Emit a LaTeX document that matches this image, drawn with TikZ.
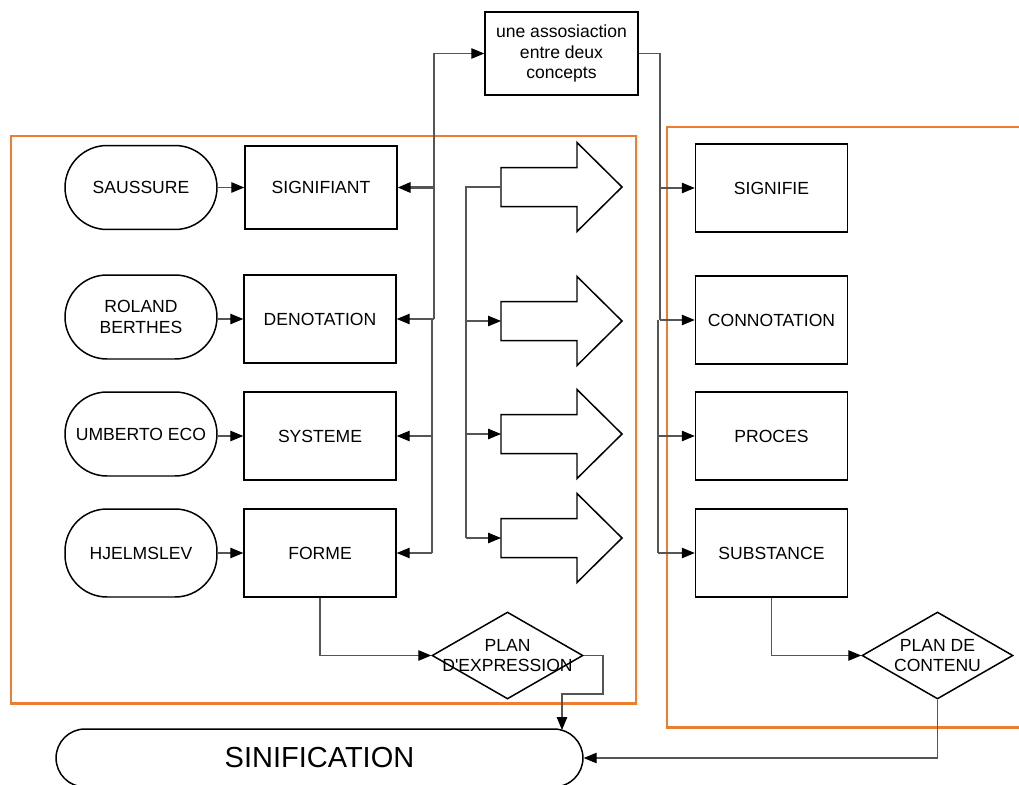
\documentclass[tikz,border=0pt]{standalone}
\usepackage{fontspec}
\setmainfont{Liberation Sans}
\usetikzlibrary{arrows.meta,shapes.geometric}
\definecolor{frameorange}{HTML}{ED7D31}
\definecolor{wirecol}{HTML}{555555}

\tikzset{
  bigarrow/.pic={
    \draw[line width=0.85pt, fill=white]
      (0,-19.5) -- (76,-19.5) -- (76,-44.5) -- (121,0) -- (76,44.5) -- (76,19.5) -- (0,19.5) -- cycle;
  }
}

\begin{document}
\begin{tikzpicture}[x=0.02cm,y=-0.02cm,
  every node/.style={font=\fontsize{10}{11.5}\selectfont, inner sep=0pt, align=center},
  box/.style={draw, line width=0.85pt, minimum width=3.04cm, minimum height=1.76cm},
  who/.style={draw, line width=0.85pt, rounded corners=0.84cm, minimum width=3.04cm, minimum height=1.68cm},
  decision/.style={draw, diamond, line width=0.85pt, minimum width=3.02cm, minimum height=1.74cm},
  wire/.style={draw=wirecol, line width=0.6pt},
  tip/.style={wire, -{Triangle[length=2.6mm,width=2.1mm,color=black]}},
  rtip/.style={wire, {Triangle[length=2.6mm,width=2.1mm,color=black]}-},
  frame/.style={draw=frameorange, line width=1.7pt}
]
\useasboundingbox (0,0) rectangle (1019,785);

% orange frames
\draw[frame] (11,136) rectangle (636,703);
\draw[frame] (667,127) rectangle (1040,727);

% top concept box
\node[box, minimum width=3.06cm, minimum height=1.66cm] (assoc) at (561.5,53.5) {une assosiaction\\entre deux\\concepts};

% authors
\node[who] (saussure) at (141,187.5) {SAUSSURE};
\node[who] (roland) at (141,317) {ROLAND\\BERTHES};
\node[who] (umberto) at (141,434) {UMBERTO ECO};
\node[who, minimum height=1.76cm] (hjelm) at (141,553) {HJELMSLEV};

% expression side
\node[box, minimum height=1.66cm] (signifiant) at (321,187.5) {SIGNIFIANT};
\node[box] (denotation) at (320,319) {DENOTATION};
\node[box] (systeme) at (320,436) {SYSTEME};
\node[box] (forme) at (320,553) {FORME};

% content side
\node[box] (signifie) at (771.5,188) {SIGNIFIE};
\node[box] (connotation) at (771.5,320) {CONNOTATION};
\node[box] (proces) at (771.5,436) {PROCES};
\node[box] (substance) at (771.5,553) {SUBSTANCE};

% planes
\node[decision, label={center:{PLAN\\D\textquotesingle EXPRESSION}}] (pexp) at (507.5,655.5) {};
\node[decision, label={center:{PLAN DE\\CONTENU}}] (pcont) at (937.5,655.5) {};

% result
\node[draw, line width=0.85pt, rounded corners=0.58cm, minimum width=10.54cm, minimum height=1.16cm,
      font=\fontsize{16.5}{18}\selectfont] (sinif) at (319.5,758) {SINIFICATION};

% block arrows
\coordinate (ba1) at (501,187);
\coordinate (ba2) at (501,321);
\coordinate (ba3) at (501,434);
\coordinate (ba4) at (501,538);
\pic at (ba1) {bigarrow};
\pic at (ba2) {bigarrow};
\pic at (ba3) {bigarrow};
\pic at (ba4) {bigarrow};

% bus positions
\coordinate (lb) at (434,0);
\coordinate (lb2) at (432,0);
\coordinate (mb) at (466,0);
\coordinate (rb) at (660,0);
\coordinate (rb2) at (658,0);

% authors to terms
\draw[tip] (saussure) -- (signifiant);
\draw[tip] (roland.east |- denotation.west) -- (denotation.west);
\draw[tip] (umberto.east |- systeme.west) -- (systeme.west);
\draw[tip] (hjelm) -- (forme);

% left bus from the concept box
\draw[rtip] (assoc.west) -| (denotation.east -| lb);
\draw[wire] (denotation.east -| lb2) -- (forme.east -| lb2);
\draw[tip, line width=1.2pt] (signifiant.east -| lb) -- (signifiant.east);
\draw[tip] (denotation.east -| lb) -- (denotation.east);
\draw[tip] (systeme.east -| lb2) -- (systeme.east);
\draw[tip] (forme.east -| lb2) -- (forme.east);

% middle bus into the block arrows
\draw[wire] (ba1) -| (ba4 -| mb);
\draw[tip] (ba2 -| mb) -- (ba2);
\draw[tip] (ba3 -| mb) -- (ba3);
\draw[tip] (ba4 -| mb) -- (ba4);

% right bus from the concept box
\draw[wire] (assoc.east) -| (connotation.west -| rb);
\draw[wire] (connotation.west -| rb2) -- (substance.west -| rb2);
\draw[tip] (signifie.west -| rb) -- (signifie.west);
\draw[tip] (connotation.west -| rb) -- (connotation.west);
\draw[tip] (proces.west -| rb2) -- (proces.west);
\draw[tip] (substance.west -| rb2) -- (substance.west);

% towards the planes and the result
\coordinate (pe1) at (603,694);
\coordinate (sinin) at (562,730);
\draw[tip] (forme.south) |- (pexp.west);
\draw[tip] (pexp.east) -| (pe1) -| (sinin);
\draw[tip] (substance.south) |- (pcont.west);
\draw[tip] (pcont.south) |- (sinif.east);
\end{tikzpicture}
\end{document}
